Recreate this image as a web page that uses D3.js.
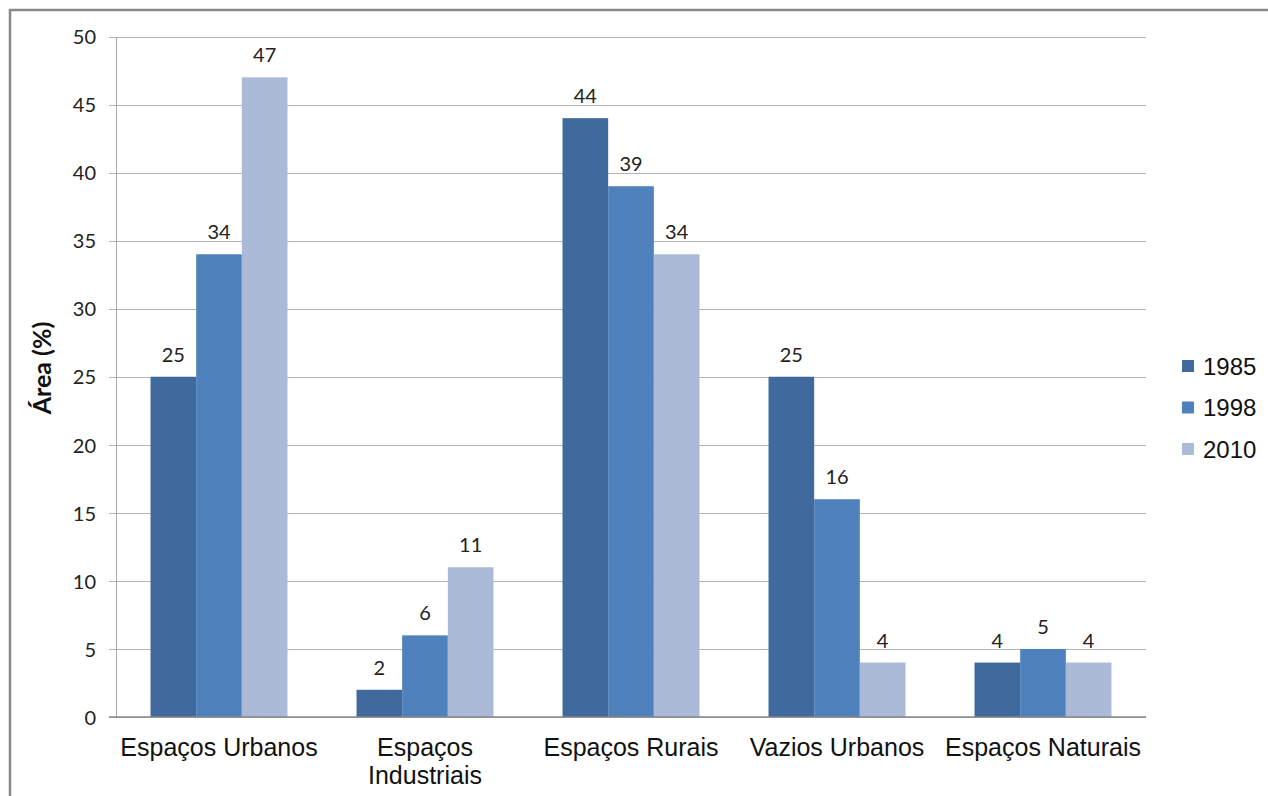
<!DOCTYPE html>
<html>
<head>
<meta charset="utf-8">
<script src="https://cdn.jsdelivr.net/npm/d3@7"></script>
<style>
    body { margin: 0; background: #fff; }
    svg { display: block; }
</style>
</head>
<body>
<div id="chart-area"></div>
<script>
// data
var categories = ["Espaços Urbanos", "Espaços Industriais", "Espaços Rurais", "Vazios Urbanos", "Espaços Naturais"];
var seriesNames = ["1985", "1998", "2010"];
var values1985 = [25, 2, 44, 25, 4];
var values1998 = [34, 6, 39, 16, 5];
var values2010 = [47, 11, 34, 4, 4];
var yTicks = [0, 5, 10, 15, 20, 25, 30, 35, 40, 45, 50];
var colors = ["#406a9d", "#4f81bd", "#aabad7"];

var seriesValues = [values1985, values1998, values2010];
var rows = categories.map(function(c, i) {
    return {
        category: c,
        values: seriesNames.map(function(s, j) { return { key: s, value: seriesValues[j][i] }; })
    };
});

var svg = d3.select("#chart-area")
    .append("svg")
    .attr("width", 1268)
    .attr("height", 796);

// outer frame
svg.append("rect")
    .attr("x", 10)
    .attr("y", 10)
    .attr("width", 1400)
    .attr("height", 1000)
    .attr("fill", "none")
    .attr("stroke", "#898989")
    .attr("stroke-width", 2.5);

var plotLeft = 116, plotRight = 1146, plotTop = 36.5, plotBottom = 717;

var x0 = d3.scaleBand()
    .domain(categories)
    .range([plotLeft, plotRight])
    .paddingInner(0.335)
    .paddingOuter(0.1675);

var x1 = d3.scaleBand()
    .domain(seriesNames)
    .range([0, x0.bandwidth()]);

var y = d3.scaleLinear()
    .domain([0, 50])
    .range([plotBottom, plotTop]);

var color = d3.scaleOrdinal()
    .domain(seriesNames)
    .range(colors);

// y axis + gridlines
var yAxis = svg.append("g")
    .attr("transform", "translate(" + plotLeft + ",0)")
    .call(d3.axisLeft(y)
        .tickValues(yTicks)
        .tickSizeInner(-(plotRight - plotLeft))
        .tickSizeOuter(0)
        .tickPadding(20));

yAxis.select(".domain").remove();
yAxis.selectAll(".tick line")
    .attr("x1", -7)
    .attr("stroke", "#b4b4b4")
    .attr("shape-rendering", "crispEdges");
yAxis.selectAll(".tick text")
    .attr("font-family", "Lato, 'Open Sans', sans-serif")
    .attr("font-size", 20)
    .attr("fill", "#222")
    .attr("dy", "0.36em");

svg.append("line")
    .attr("x1", plotLeft).attr("x2", plotLeft)
    .attr("y1", plotTop).attr("y2", plotBottom)
    .attr("stroke", "#a9a9a9")
    .attr("shape-rendering", "crispEdges");

// bars
var groups = svg.selectAll(".group")
    .data(rows)
    .enter()
    .append("g")
    .attr("class", "group")
    .attr("transform", function(d) { return "translate(" + x0(d.category) + ",0)"; });

groups.selectAll("rect")
    .data(function(d) { return d.values; })
    .enter()
    .append("rect")
    .attr("x", function(d) { return x1(d.key); })
    .attr("y", function(d) { return y(d.value); })
    .attr("width", x1.bandwidth())
    .attr("height", function(d) { return y(0) - y(d.value); })
    .attr("fill", function(d) { return color(d.key); });

groups.selectAll(".label")
    .data(function(d) { return d.values; })
    .enter()
    .append("text")
    .attr("class", "label")
    .attr("x", function(d) { return x1(d.key) + x1.bandwidth() / 2; })
    .attr("y", function(d) { return y(d.value) - 15; })
    .attr("text-anchor", "middle")
    .attr("font-family", "Lato, 'Open Sans', sans-serif")
    .attr("font-size", 20)
    .attr("fill", "#222")
    .text(function(d) { return d.value; });

// x axis line
svg.append("line")
    .attr("x1", plotLeft - 7).attr("x2", plotRight)
    .attr("y1", y(0)).attr("y2", y(0))
    .attr("stroke", "#878787")
    .attr("stroke-width", 1.5);

// category labels (wrap when wider than the band step)
var catLabels = svg.selectAll(".cat")
    .data(categories)
    .enter()
    .append("text")
    .attr("class", "cat")
    .attr("x", function(d) { return x0(d) + x0.bandwidth() / 2; })
    .attr("y", 756)
    .attr("text-anchor", "middle")
    .attr("font-family", "'Liberation Sans', Arial, sans-serif")
    .attr("font-size", 25)
    .attr("fill", "#111")
    .text(function(d) { return d; });

catLabels.each(function(d) {
    var t = d3.select(this);
    if (this.getComputedTextLength() > x0.step()) {
        var words = d.split(" ");
        var cx = t.attr("x");
        t.text(null);
        words.forEach(function(w, i) {
            t.append("tspan")
                .attr("x", cx)
                .attr("dy", i === 0 ? 0 : 28)
                .text(w);
        });
    }
});

// y axis title
svg.append("text")
    .attr("transform", "translate(51,368) rotate(-90)")
    .attr("text-anchor", "middle")
    .attr("font-family", "Lato, 'Open Sans', sans-serif")
    .attr("font-weight", "bold")
    .attr("font-size", 25)
    .attr("fill", "#111")
    .text("Área (%)");

// legend
var legend = svg.selectAll(".legend")
    .data(seriesNames)
    .enter()
    .append("g")
    .attr("class", "legend")
    .attr("transform", function(d, i) { return "translate(1182," + (366 + i * 41.5) + ")"; });

legend.append("rect")
    .attr("x", 0)
    .attr("y", -6)
    .attr("width", 12)
    .attr("height", 12)
    .attr("fill", function(d) { return color(d); });

legend.append("text")
    .attr("x", 21)
    .attr("y", 0)
    .attr("dy", "0.36em")
    .attr("font-family", "'Liberation Sans', Arial, sans-serif")
    .attr("font-size", 24)
    .attr("fill", "#111")
    .text(function(d) { return d; });
</script>
</body>
</html>
